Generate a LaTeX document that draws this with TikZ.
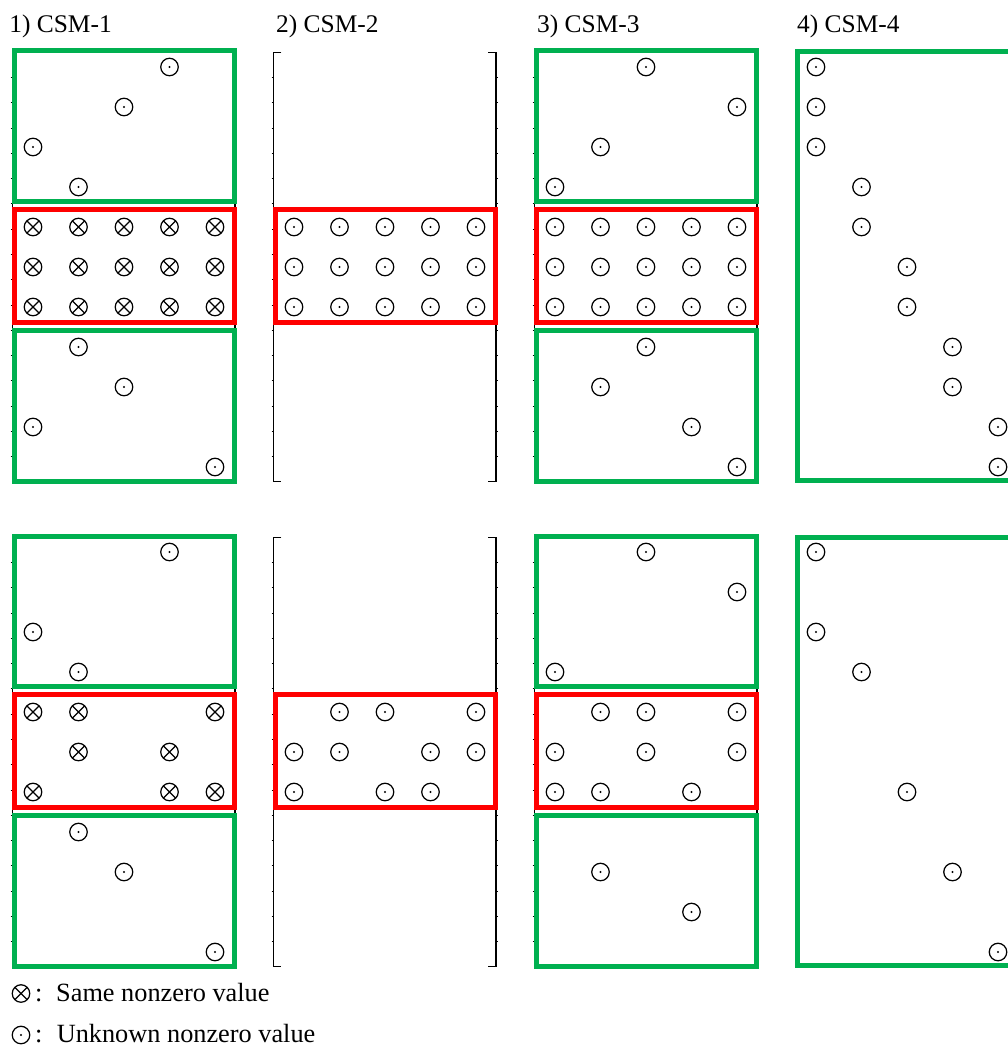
\documentclass[tikz,border=0pt]{standalone}
\usepackage{fontspec}
\setmainfont{Liberation Serif}
\definecolor{csmgreen}{RGB}{0,176,80}
\definecolor{csmred}{RGB}{255,0,0}
\begin{document}
\begin{tikzpicture}[x=1pt,y=-1pt,
  sym/.style={circle, draw=black, line width=1.25pt, minimum size=17.5pt, inner sep=0pt},
  unk/.style={sym, path picture={\fill[black] (path picture bounding box.center) circle (1.2pt);}},
  same/.style={sym, path picture={\draw[line width=1.1pt]
      (path picture bounding box.north west) -- (path picture bounding box.south east)
      (path picture bounding box.north east) -- (path picture bounding box.south west);}},
  gbox/.style={draw=csmgreen, line width=5pt},
  rbox/.style={draw=csmred, line width=5pt},
  brk/.style={draw=black, line width=1.2pt},
  tick/.style={draw=black, line width=0.8pt},
  title/.style={anchor=base west, inner sep=0pt, font=\fontsize{25.4}{30}\selectfont},
  legend/.style={anchor=base west, inner sep=0pt, font=\fontsize{26.3}{31}\selectfont}
]
\useasboundingbox (0,0) rectangle (1008,1046);
\clip (0,0) rectangle (1008,1046);
\fill[white] (0,0) rectangle (1008,1046);

% titles
\node[title] (t1) at (9.2,33) {1) CSM-1};
\node[title] (t2) at (276,33) {2) CSM-2};
\node[title] (t3) at (537,33) {3) CSM-3};
\node[title] (t4) at (797,33) {4) CSM-4};

% brackets (panels 1-3, both halves)
\foreach \p in {0,1,2}{
  \foreach \h in {0,1}{
    \pgfmathsetmacro{\xl}{33+261*\p-20.7}
    \pgfmathsetmacro{\xr}{33+261*\p+202}
    \pgfmathsetmacro{\yt}{67+485*\h-14.7}
    \pgfmathsetmacro{\yb}{67+485*\h+414.7}
    \draw[brk] (\xl+8,\yt) -- (\xl,\yt) -- (\xl,\yb) -- (\xl+8,\yb);
    \draw[brk] (\xr-8,\yt) -- (\xr,\yt) -- (\xr,\yb) -- (\xr-8,\yb);
    \foreach \k in {1,...,16}{
      \draw[tick] (\xl-1.8,\yt+25.26*\k) -- (\xl,\yt+25.26*\k);
      \draw[tick] (\xr,\yt+25.26*\k) -- (\xr+1.8,\yt+25.26*\k);
    }
  }
}

% boxes
\foreach \h in {0,1}{
  \foreach \p in {0,2}{
    \pgfmathsetmacro{\xa}{33+261*\p-18.5}
    \pgfmathsetmacro{\xb}{33+261*\p+201.5}
    \pgfmathsetmacro{\yo}{67+485*\h}
    \draw[gbox] (\xa,\yo-16) rectangle (\xb,\yo+134.5);
    \draw[rbox] (\xa,\yo+142) rectangle (\xb,\yo+255.5);
    \draw[gbox] (\xa,\yo+263) rectangle (\xb,\yo+414.5);
  }
  \pgfmathsetmacro{\xa}{33+261-18.5}
  \pgfmathsetmacro{\xb}{33+261+201.5}
  \pgfmathsetmacro{\yo}{67+485*\h}
  \draw[rbox] (\xa,\yo+142) rectangle (\xb,\yo+255.5);
  \pgfmathsetmacro{\xa}{33+783-18.5}
  \draw[gbox] (\xa,\yo-15) rectangle (\xa+260,\yo+413.5);
}

% full red blocks (top half)
\foreach \r in {4,5,6}{
  \foreach \c in {0,...,4}{
    \node[same] (e00R\r C\c) at ({33+45.5*\c},{67+40*\r}) {};
    \node[unk]  (e10R\r C\c) at ({33+261+45.5*\c},{67+40*\r}) {};
    \node[unk]  (e20R\r C\c) at ({33+522+45.5*\c},{67+40*\r}) {};
  }
}

% individual entries: panel/half/row/col/style
\foreach \p/\h/\r/\c/\s in {
  0/0/0/3/unk, 0/0/1/2/unk, 0/0/2/0/unk, 0/0/3/1/unk,
  0/0/7/1/unk, 0/0/8/2/unk, 0/0/9/0/unk, 0/0/10/4/unk,
  2/0/0/2/unk, 2/0/1/4/unk, 2/0/2/1/unk, 2/0/3/0/unk,
  2/0/7/2/unk, 2/0/8/1/unk, 2/0/9/3/unk, 2/0/10/4/unk,
  3/0/0/0/unk, 3/0/1/0/unk, 3/0/2/0/unk, 3/0/3/1/unk, 3/0/4/1/unk,
  3/0/5/2/unk, 3/0/6/2/unk, 3/0/7/3/unk, 3/0/8/3/unk, 3/0/9/4/unk, 3/0/10/4/unk,
  0/1/0/3/unk, 0/1/2/0/unk, 0/1/3/1/unk,
  0/1/4/0/same, 0/1/4/1/same, 0/1/4/4/same, 0/1/5/1/same, 0/1/5/3/same,
  0/1/6/0/same, 0/1/6/3/same, 0/1/6/4/same,
  0/1/7/1/unk, 0/1/8/2/unk, 0/1/10/4/unk,
  1/1/4/1/unk, 1/1/4/2/unk, 1/1/4/4/unk, 1/1/5/0/unk, 1/1/5/1/unk,
  1/1/5/3/unk, 1/1/5/4/unk, 1/1/6/0/unk, 1/1/6/2/unk, 1/1/6/3/unk,
  2/1/0/2/unk, 2/1/1/4/unk, 2/1/3/0/unk,
  2/1/4/1/unk, 2/1/4/2/unk, 2/1/4/4/unk, 2/1/5/0/unk, 2/1/5/2/unk,
  2/1/5/4/unk, 2/1/6/0/unk, 2/1/6/1/unk, 2/1/6/3/unk,
  2/1/8/1/unk, 2/1/9/3/unk,
  3/1/0/0/unk, 3/1/2/0/unk, 3/1/3/1/unk, 3/1/6/2/unk, 3/1/8/3/unk, 3/1/10/4/unk}{
  \node[\s] (e\p\h R\r C\c) at ({33+261*\p+45.5*\c},{67+485*\h+40*\r}) {};
}

% legend
\node[same] (legsame) at (21,993.5) {};
\node[legend] (legc1) at (35,1001.7) {:};
\node[legend] (legt1) at (56,1001.7) {Same nonzero value};
\node[unk] (legunk) at (21,1035) {};
\node[legend] (legc2) at (35,1042) {:};
\node[legend] (legt2) at (56.6,1042) {Unknown nonzero value};
\end{tikzpicture}
\end{document}
